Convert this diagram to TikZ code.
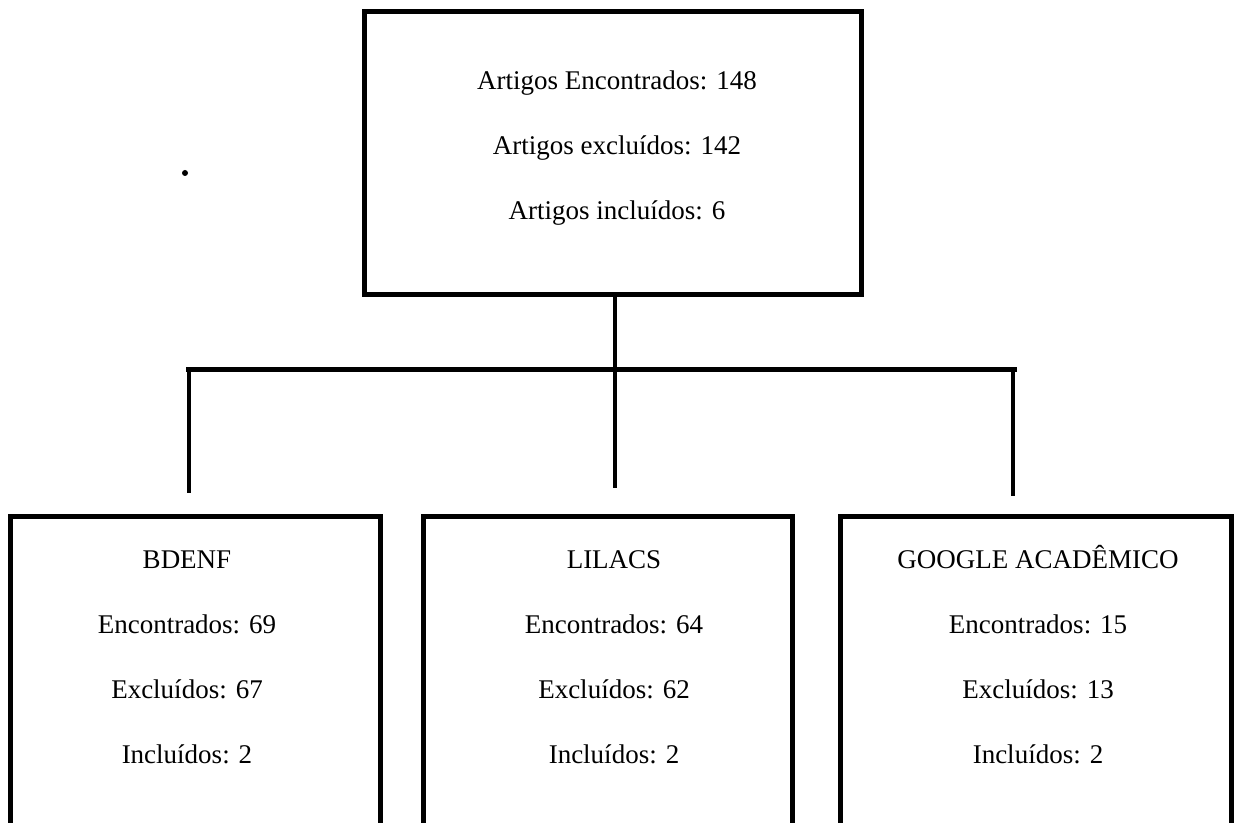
\documentclass[tikz,border=0pt]{standalone}
\usepackage{fontspec}
\setmainfont{Liberation Serif}
\begin{document}
\begin{tikzpicture}[x=0.75pt,y=-0.75pt,
  box/.style={draw=black, line width=3.75pt, rectangle, inner sep=0pt},
  txt/.style={align=center, font=\fontsize{20.25}{48.75}\selectfont, inner sep=0pt},
  conn/.style={line width=3pt},
  bar/.style={line width=3.75pt}]
\clip (0,0) rectangle (1239,823);
% boxes
\node[box, minimum width=373.1pt, minimum height=212.6pt] (top) at (613.25,152.75) {};
\node[box, minimum width=277.5pt, minimum height=232.9pt] (b1) at (195.5,671.75) {};
\node[box, minimum width=277.1pt, minimum height=232.9pt] (b2) at (607.75,671.75) {};
\node[box, minimum width=293.25pt, minimum height=232.9pt] (b3) at (1035.5,671.75) {};
% texts
\node[txt] (ttop) at (617,148) {Artigos Encontrados: 148\\Artigos excluídos: 142\\Artigos incluídos: 6};
\node[txt] (t1) at (187,657.5) {BDENF\\Encontrados: 69\\Excluídos: 67\\Incluídos: 2};
\node[txt] (t2) at (614,657.5) {LILACS\\Encontrados: 64\\Excluídos: 62\\Incluídos: 2};
\node[txt] (t3) at (1038,654.5) {GOOGLE ACADÊMICO\\Encontrados: 15\\Excluídos: 13\\Incluídos: 2};
% stray dot
\node[fill=black, circle, minimum size=4.5pt, inner sep=0pt] (dot) at (185,173) {};
% connectors
\coordinate (barL) at (186,370);
\coordinate (barR) at (1017,370);
\coordinate (e1) at (189,493);
\coordinate (e2) at (615,488);
\coordinate (e3) at (1013,496);
\draw[conn] (e2 |- top.south) -- (e2);
\draw[bar] (barL) -- (barR);
\draw[conn] (e1 |- barL) -- (e1);
\draw[conn] (e3 |- barL) -- (e3);
\end{tikzpicture}
\end{document}
